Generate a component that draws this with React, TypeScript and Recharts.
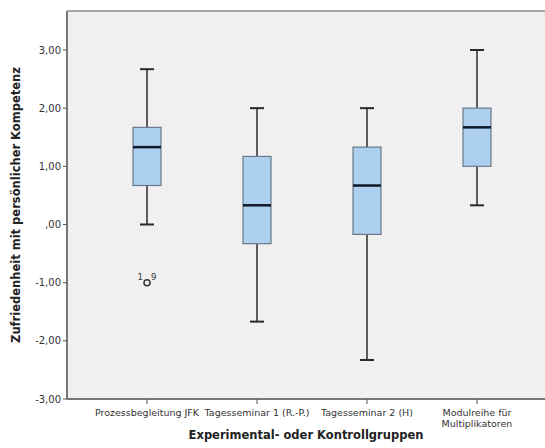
import React from 'react';
import {
  ComposedChart, Bar, Scatter, XAxis, YAxis, CartesianGrid, ReferenceLine, Label,
} from 'recharts';

// groups on the x axis
const groups = [
  'Prozessbegleitung JFK',
  'Tagesseminar 1 (R.-P.)',
  'Tagesseminar 2 (H)',
  'Modulreihe für Multiplikatoren',
];

// box statistics per group
const whiskerLow = [0.0, -1.67, -2.33, 0.33];
const q1 = [0.67, -0.33, -0.17, 1.0];
const median = [1.33, 0.33, 0.67, 1.67];
const q3 = [1.67, 1.17, 1.33, 2.0];
const whiskerHigh = [2.67, 2.0, 2.0, 3.0];

// outliers (value + case labels), null where none
const outlierValue = [-1.0, null, null, null];
const outlierCases = [['1', '9'], [], [], []];

const yTicks = [-3, -2, -1, 0, 1, 2, 3];
const Y_MIN = -3;
const Y_MAX = 3.67;

const data = groups.map((name, i) => ({
  name,
  range: [whiskerLow[i], whiskerHigh[i]],
  q1: q1[i],
  median: median[i],
  q3: q3[i],
  outlier: outlierValue[i],
  cases: outlierCases[i],
}));

const FONT = '"DejaVu Sans", sans-serif';

const fmt = (v: number) => {
  const s = Math.abs(v).toFixed(2).replace('.', ',');
  const body = s.startsWith('0') ? s.slice(1) : s;
  return (v < 0 ? '-' : '') + body;
};

// long labels go on two lines, broken at the last space
const splitLabel = (s: string) => {
  if (s.length <= 24) return [s];
  const i = s.lastIndexOf(' ');
  return [s.slice(0, i), s.slice(i + 1)];
};

const BoxShape = (props: any) => {
  const { x, y, width, height, payload } = props;
  const [lo, hi] = payload.range;
  const py = (v: number) => y + ((hi - v) / (hi - lo)) * height;
  const cx = x + width / 2;
  const cap = 7;
  return (
    <g>
      <line x1={cx} x2={cx} y1={py(hi)} y2={py(lo)} stroke="#2b2b2b" strokeWidth={1.5} />
      <line x1={cx - cap} x2={cx + cap} y1={py(hi)} y2={py(hi)} stroke="#2b2b2b" strokeWidth={2} />
      <line x1={cx - cap} x2={cx + cap} y1={py(lo)} y2={py(lo)} stroke="#2b2b2b" strokeWidth={2} />
      <rect x={x} y={py(payload.q3)} width={width} height={py(payload.q1) - py(payload.q3)}
        fill="#aed0f0" stroke="#6a7888" strokeWidth={1.2} />
      <line x1={x} x2={x + width} y1={py(payload.median)} y2={py(payload.median)} stroke="#101a28" strokeWidth={2.5} />
    </g>
  );
};

const OutlierShape = (props: any) => {
  const { cx, cy, payload } = props;
  if (payload.outlier == null || cx == null || cy == null) return null;
  const [a, b] = payload.cases;
  return (
    <g>
      <circle cx={cx} cy={cy} r={3} fill="none" stroke="#333" strokeWidth={1.5} />
      <text x={cx - 4} y={cy - 3} fontSize={8.5} fill="#333" textAnchor="end" fontFamily={FONT}>{a}</text>
      <text x={cx + 4} y={cy - 3} fontSize={8.5} fill="#333" textAnchor="start" fontFamily={FONT}>{b}</text>
    </g>
  );
};

const XTick = (props: any) => {
  const { x, y, payload } = props;
  const lines = splitLabel(String(payload.value));
  return (
    <text x={x} y={y + 10} textAnchor="middle" fontSize={9.5} fill="#333" fontFamily={FONT}>
      {lines.map((l, i) => (
        <tspan key={i} x={x} dy={i === 0 ? 0 : 11}>{l}</tspan>
      ))}
    </text>
  );
};

export default function App() {
  return (
    <div style={{ position: 'absolute', left: 0, top: 0, width: 545, height: 448, background: '#fff' }}>
      <ComposedChart width={545} height={448} data={data}
        margin={{ top: 11, right: 0, bottom: 0, left: 0 }}>
        <CartesianGrid fill="#f0f0f0" horizontal={false} vertical={false} stroke="none" />
        <ReferenceLine y={Y_MAX} stroke="#8a8a8a" strokeWidth={1.5} />
        <XAxis dataKey="name" type="category" padding={{ left: 25, right: 13 }} height={49}
          axisLine={{ stroke: '#777', strokeWidth: 2 }} tickLine={{ stroke: '#555' }} tickSize={5}
          tickMargin={2} tick={<XTick />} interval={0}>
          <Label value="Experimental- oder Kontrollgruppen" position="insideBottom" offset={9}
            style={{ fontSize: 11.5, fontWeight: 'bold', fill: '#222', fontFamily: FONT }} />
        </XAxis>
        <YAxis type="number" domain={[Y_MIN, Y_MAX]} ticks={yTicks} width={67} allowDataOverflow
          tickFormatter={fmt} axisLine={{ stroke: '#777', strokeWidth: 2 }}
          tickLine={{ stroke: '#555' }} tickSize={4}
          tick={{ fontSize: 10, fill: '#333', fontFamily: FONT }}>
          <Label value="Zufriedenheit mit persönlicher Kompetenz" angle={-90} position="insideLeft" offset={16}
            style={{ fontSize: 11.5, fontWeight: 'bold', fill: '#222', fontFamily: FONT, textAnchor: 'middle' }} />
        </YAxis>
        <Bar dataKey="range" barSize={28} shape={<BoxShape />} isAnimationActive={false} />
        <Scatter dataKey="outlier" shape={<OutlierShape />} isAnimationActive={false} />
      </ComposedChart>
    </div>
  );
}
